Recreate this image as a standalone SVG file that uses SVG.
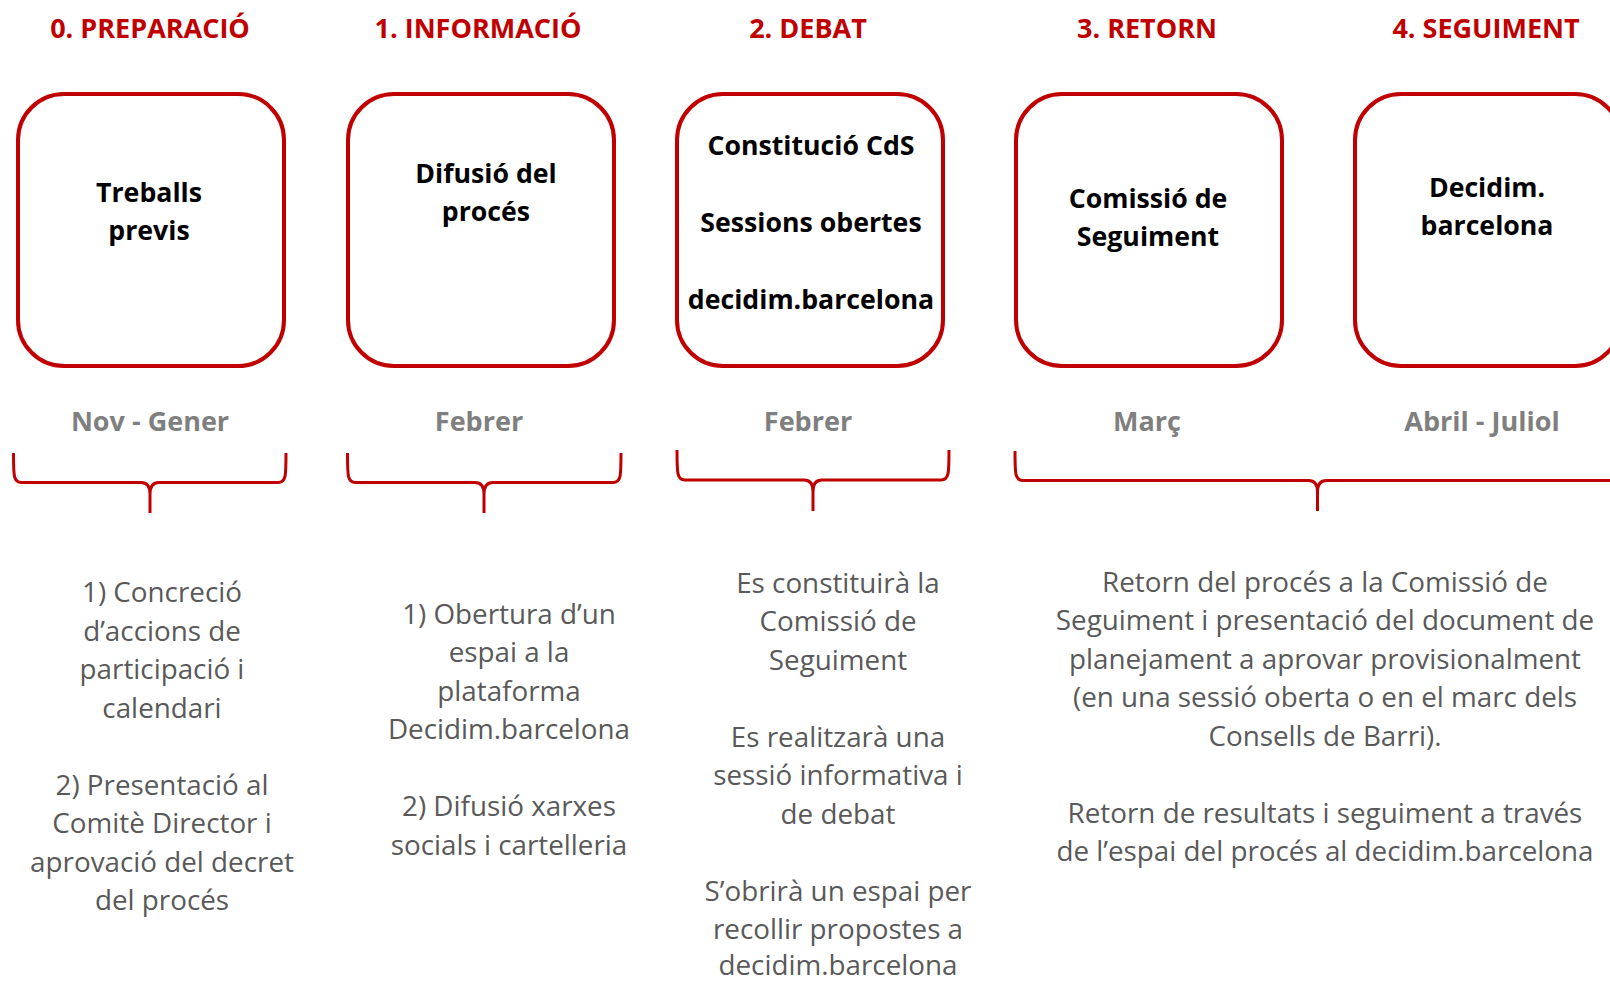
<svg xmlns="http://www.w3.org/2000/svg" width="1610" height="981" viewBox="0 0 1610 981">
<style>
.hdr{font-family:"Open Sans","Liberation Sans",sans-serif;font-weight:bold;font-size:27px;fill:#C00000;text-anchor:middle}
.box{fill:#FFFFFF;stroke:#C00000;stroke-width:4}
.bt{font-family:"Open Sans","Liberation Sans",sans-serif;font-weight:bold;font-size:26.7px;fill:#000000;text-anchor:middle}
.dt{font-family:"Open Sans","Liberation Sans",sans-serif;font-weight:bold;font-size:27px;fill:#7F7F7F;text-anchor:middle}
.body{font-family:"Open Sans","Liberation Sans",sans-serif;font-size:27.8px;fill:#595959;text-anchor:middle}
.brace{fill:none;stroke:#C00000;stroke-width:3;stroke-linejoin:round}
</style>
<rect width="1610" height="981" fill="#FFFFFF"/>
<g id="headers">
<text class="hdr" x="150" y="38">0. PREPARACIÓ</text>
<text class="hdr" x="478" y="38">1. INFORMACIÓ</text>
<text class="hdr" x="808" y="38">2. DEBAT</text>
<text class="hdr" x="1147" y="38">3. RETORN</text>
<text class="hdr" x="1486" y="38">4. SEGUIMENT</text>
</g>
<g id="node0">
<rect class="box" x="18" y="94" width="266" height="272" rx="46" ry="46"/>
<text class="bt" x="149" y="202">Treballs</text>
<text class="bt" x="149" y="240">previs</text>
</g>
<g id="node1">
<rect class="box" x="348" y="94" width="266" height="272" rx="46" ry="46"/>
<text class="bt" x="486" y="183">Difusió del</text>
<text class="bt" x="486" y="221">procés</text>
</g>
<g id="node2">
<rect class="box" x="677" y="94" width="266" height="272" rx="46" ry="46"/>
<text class="bt" x="811" y="155">Constitució CdS</text>
<text class="bt" x="811" y="232">Sessions obertes</text>
<text class="bt" x="811" y="309">decidim.barcelona</text>
</g>
<g id="node3">
<rect class="box" x="1016" y="94" width="266" height="272" rx="46" ry="46"/>
<text class="bt" x="1148" y="208">Comissió de</text>
<text class="bt" x="1148" y="246">Seguiment</text>
</g>
<g id="node4">
<rect class="box" x="1355" y="94" width="266" height="272" rx="46" ry="46"/>
<text class="bt" x="1487" y="197">Decidim.</text>
<text class="bt" x="1487" y="235">barcelona</text>
</g>
<g id="dates">
<text class="dt" x="150" y="431">Nov - Gener</text>
<text class="dt" x="479" y="431">Febrer</text>
<text class="dt" x="808" y="431">Febrer</text>
<text class="dt" x="1147" y="431">Març</text>
<text class="dt" x="1482" y="431">Abril - Juliol</text>
</g>
<g id="connectors">
<path class="brace" d="M13.5,453 C13.5,476 13.5,482.5 21.5,482.5 L141,482.5 Q150,482.5 150,494 L150,513 M150,494 Q150,482.5 159,482.5 L278,482.5 C286,482.5 286,476 286,453"/>
<path class="brace" d="M347.5,453 C347.5,476 347.5,482.5 355.5,482.5 L475,482.5 Q484,482.5 484,494 L484,513 M484,494 Q484,482.5 493,482.5 L613,482.5 C621,482.5 621,476 621,453"/>
<path class="brace" d="M677,450 C677,473 677,480 685,480 L804,480 Q813,480 813,491.5 L813,511 M813,491.5 Q813,480 822,480 L941,480 C949,480 949,473 949,450"/>
<path class="brace" d="M1015,451 C1015,474 1015,480.5 1023,480.5 L1308.5,480.5 Q1317.5,480.5 1317.5,492 L1317.5,511 M1317.5,492 Q1317.5,480.5 1326.5,480.5 L1640,480.5"/>
</g>
<g id="text0">
<text class="body" x="162" y="602">1) Concreció</text>
<text class="body" x="162" y="640.5">d’accions de</text>
<text class="body" x="162" y="679">participació i</text>
<text class="body" x="162" y="717.5">calendari</text>
<text class="body" x="162" y="794.5">2) Presentació al</text>
<text class="body" x="162" y="833">Comitè Director i</text>
<text class="body" x="162" y="871.5">aprovació del decret</text>
<text class="body" x="162" y="910">del procés</text>
</g>
<g id="text1">
<text class="body" x="509" y="623.5">1) Obertura d’un</text>
<text class="body" x="509" y="662">espai a la</text>
<text class="body" x="509" y="700.5">plataforma</text>
<text class="body" x="509" y="739">Decidim.barcelona</text>
<text class="body" x="509" y="816">2) Difusió xarxes</text>
<text class="body" x="509" y="854.5">socials i cartelleria</text>
</g>
<g id="text2">
<text class="body" x="838" y="592.5">Es constituirà la</text>
<text class="body" x="838" y="631">Comissió de</text>
<text class="body" x="838" y="669.5">Seguiment</text>
<text class="body" x="838" y="746.5">Es realitzarà una</text>
<text class="body" x="838" y="785">sessió informativa i</text>
<text class="body" x="838" y="823.5">de debat</text>
<text class="body" x="838" y="900.5">S’obrirà un espai per</text>
<text class="body" x="838" y="939">recollir propostes a</text>
<text class="body" x="838" y="975">decidim.barcelona</text>
</g>
<g id="text3">
<text class="body" x="1325" y="591.5">Retorn del procés a la Comissió de</text>
<text class="body" x="1325" y="630">Seguiment i presentació del document de</text>
<text class="body" x="1325" y="668.5">planejament a aprovar provisionalment</text>
<text class="body" x="1325" y="707">(en una sessió oberta o en el marc dels</text>
<text class="body" x="1325" y="745.5">Consells de Barri).</text>
<text class="body" x="1325" y="822.5">Retorn de resultats i seguiment a través</text>
<text class="body" x="1325" y="861">de l’espai del procés al decidim.barcelona</text>
</g>
</svg>
